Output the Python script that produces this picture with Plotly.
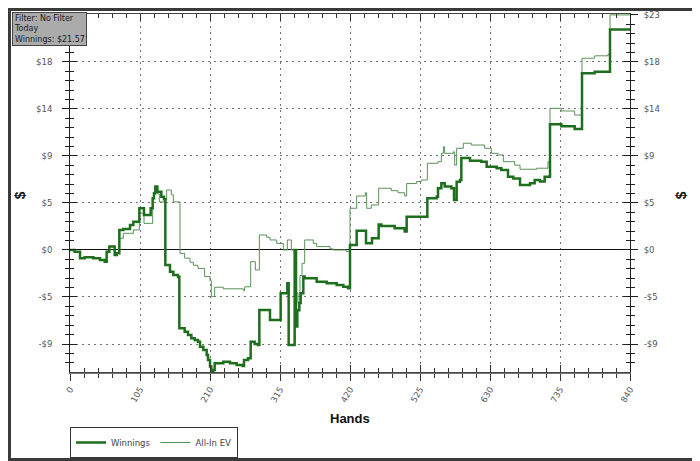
import plotly.graph_objects as go

# ---- data (hands, cumulative $) ----
win_hands = [0, 7, 15, 22, 35, 45, 52, 55, 59, 67, 70, 74, 80, 90, 95, 104, 111, 121, 124, 126,
             128, 131, 137, 141, 143, 150, 155, 162, 164, 172, 177, 182, 187, 192, 195, 200, 205,
             207, 210, 212, 215, 217, 230, 240, 250, 259, 261, 267, 271, 277, 282, 284, 300, 316,
             326, 328, 337, 339, 341, 344, 346, 350, 352, 370, 385, 400, 410, 417, 420, 430, 444,
             453, 463, 467, 487, 502, 505, 527, 536, 550, 552, 557, 562, 572, 576, 580, 585, 587,
             600, 617, 625, 640, 647, 657, 665, 675, 690, 697, 705, 712, 720, 737, 757, 768, 787,
             810, 840]
win_values = [0, -0.17, -0.81, -0.72, -0.81, -0.98, -1.14, -0.17, 0.33, -0.49, -0.33, 1.96, 2.05,
              2.45, 2.77, 4.08, 3.42, 4.08, 5.06, 5.55, 6.2, 5.7, 5.2, 4.96, -1.47, -2.12, -2.45,
              -2.61, -7.66, -7.99, -8.32, -8.64, -8.81, -8.97, -9.46, -9.78, -10.27, -10.76, -11.4,
              -12.06, -11.74, -11.09, -10.93, -11.09, -11.25, -11.35, -10.76, -10.6, -8.97, -9.2,
              -9.3, -5.87, -6.85, -4.24, -3.26, -9.3, 0.0, -7.5, -5.9, -5.2, -4.24, -2.6, -2.77,
              -3.1, -3.26, -3.42, -3.59, -3.75, 0.49, 1.88, 0.65, 1.14, 2.5, 2.35, 2.12, 1.8, 3.26,
              3.26, 5.06, 5.2, 6.04, 6.52, 6.2, 6.04, 4.9, 6.68, 6.85, 9.0, 8.74, 8.64, 8.15, 8.0,
              7.83, 7.17, 7.0, 6.36, 6.52, 6.85, 6.7, 7.17, 12.3, 12.1, 11.84, 17.3, 17.45, 21.57,
              21.57]

ev_hands = [0, 7, 15, 22, 35, 45, 52, 55, 59, 67, 70, 74, 80, 95, 104, 111, 121, 124, 126, 131,
            134, 142, 145, 152, 155, 165, 172, 180, 185, 192, 202, 210, 212, 217, 230, 260, 262,
            271, 278, 284, 295, 300, 310, 320, 326, 332, 338, 342, 345, 348, 352, 365, 370, 390,
            395, 415, 420, 430, 443, 445, 452, 463, 482, 492, 502, 505, 520, 527, 536, 552, 557,
            560, 562, 575, 577, 580, 590, 602, 622, 632, 642, 650, 667, 675, 700, 717, 720, 737,
            757, 768, 787, 807, 810, 840]
ev_values = [0, -0.17, -0.81, -0.72, -0.81, -0.98, -1.14, -0.17, 0.33, -0.49, -0.33, 1.14, 1.63,
             1.96, 3.6, 2.6, 2.6, 5.0, 5.7, 5.5, 4.7, 4.9, 5.87, 5.4, 4.7, -0.33, -0.8, -1.2,
             -1.5, -1.8, -2.6, -3.0, -4.57, -3.65, -3.8, -3.98, -3.6, -1.14, -1.96, 1.47, 1.24,
             0.98, 0.65, 0.0, 0.98, 0.0, -4.2, -5.2, -2.5, -1.3, 0.98, 0.65, 0.33, 0.1, 0.0,
             -0.16, 4.08, 5.28, 5.6, 4.08, 4.4, 6.04, 5.8, 5.6, 5.28, 6.5, 6.7, 6.85, 8.48, 8.64,
             9.46, 10.1, 9.46, 9.6, 8.3, 9.95, 10.44, 10.27, 9.95, 9.46, 9.3, 8.64, 8.3, 7.9, 8.0,
             8.64, 13.86, 13.6, 13.2, 18.76, 19.0, 19.15, 23.0, 23.0]

x_tick_vals = [0, 105, 210, 315, 420, 525, 630, 735, 840]
x_tick_text = ["0", "105", "210", "315", "420", "525", "630", "735", "840"]
y_tick_vals = [-9.2, -4.6, 0, 4.6, 9.2, 13.8, 18.4, 23.0]
y_tick_text = ["-$9", "-$5", "$0", "$5", "$9", "$14", "$18", "$23"]
y_tick_text_left = ["-$9", "-$5", "$0", "$5", "$9", "$14", "$18", ""]

X_RANGE = [0, 840]
Y_RANGE = [-11.94, 23.09]

TICK_FONT = dict(family="DejaVu Sans", size=8.5, color="#555555")
GRID_DASH = "2px,4px"
X_MINOR_OUT = dict(tickmode="linear", tick0=0, dtick=21, ticks="outside", ticklen=4,
                   tickcolor="#333", showgrid=False)
X_MINOR_IN = dict(tickmode="linear", tick0=0, dtick=21, ticks="inside", ticklen=4,
                  tickcolor="#333", showgrid=False)
Y_MINOR_OUT = dict(tickmode="linear", tick0=0, dtick=0.92, ticks="outside", ticklen=4,
                   tickcolor="#222", showgrid=False)
Y_MINOR_IN = dict(tickmode="linear", tick0=0, dtick=0.92, ticks="inside", ticklen=4,
                  tickcolor="#222", showgrid=False)

fig = go.Figure()
fig.add_trace(go.Scatter(x=ev_hands, y=ev_values, mode="lines", name="All-In EV",
                         xaxis="x", yaxis="y",
                         line=dict(color="#5a915a", width=1, shape="hv"), legendrank=2))
fig.add_trace(go.Scatter(x=win_hands, y=win_values, mode="lines", name="Winnings",
                         xaxis="x2", yaxis="y2",
                         line=dict(color="#1d6e1d", width=2.5, shape="hv"), legendrank=1))

fig.update_layout(
    width=692, height=453,
    margin=dict(l=62, r=70, t=6, b=89, autoexpand=False),
    paper_bgcolor="white", plot_bgcolor="white",
    xaxis=dict(range=X_RANGE, tickmode="array", tickvals=x_tick_vals, ticktext=x_tick_text,
               ticks="outside", ticklen=7, tickcolor="#333", tickangle=-60, tickfont=TICK_FONT,
               showline=True, linecolor="#777777", linewidth=2, mirror=False,
               showgrid=True, gridcolor="#707070", griddash=GRID_DASH, gridwidth=1,
               zeroline=False, automargin=False, minor=X_MINOR_OUT, anchor="y"),
    xaxis2=dict(range=X_RANGE, tickmode="array", tickvals=x_tick_vals, overlaying="x",
                side="bottom", anchor="y2", showticklabels=False, ticks="inside", ticklen=7,
                tickcolor="#333", showline=True, linecolor="#444444", linewidth=1, mirror="ticks",
                showgrid=False, zeroline=False, automargin=False, minor=X_MINOR_IN),
    yaxis=dict(range=Y_RANGE, tickmode="array", tickvals=y_tick_vals, ticktext=y_tick_text_left,
               ticks="outside", ticklen=7, tickcolor="#222", tickfont=TICK_FONT,
               ticklabelstandoff=8, showline=True, linecolor="#222", linewidth=1, mirror="ticks",
               showgrid=True, gridcolor="#707070", griddash=GRID_DASH, gridwidth=1,
               zeroline=True, zerolinecolor="#111111", zerolinewidth=1, automargin=False,
               minor=Y_MINOR_OUT, anchor="x"),
    yaxis2=dict(range=Y_RANGE, tickmode="array", tickvals=y_tick_vals, ticktext=y_tick_text,
                overlaying="y", side="right", anchor="x2", ticks="inside", ticklen=7,
                tickcolor="#222", tickfont=TICK_FONT, ticklabelstandoff=11, showline=True,
                linecolor="#222", linewidth=1, mirror="ticks", showgrid=False, zeroline=False,
                automargin=False, minor=Y_MINOR_IN),
    showlegend=True,
    legend=dict(orientation="h", xref="container", yref="container", x=0.0896,
                y=1 - (427 - 8) / 453, xanchor="left", yanchor="top",
                bordercolor="#333333", borderwidth=1, bgcolor="white",
                font=dict(family="DejaVu Sans", size=8.5, color="#444444"),
                itemwidth=30, tracegroupgap=0),
    annotations=[
        dict(text="Hands", x=0.5, y=-0.1285, xref="paper", yref="paper", showarrow=False,
             xanchor="center", yanchor="middle",
             font=dict(family="Liberation Sans", size=13, color="#111111", weight="bold")),
        dict(text="$", x=-0.0893, y=0.494, xref="paper", yref="paper", showarrow=False,
             textangle=-90, xanchor="center", yanchor="middle",
             font=dict(family="Liberation Sans", size=14, color="#111111", weight="bold")),
        dict(text="$", x=1.0911, y=0.494, xref="paper", yref="paper", showarrow=False,
             textangle=-90, xanchor="center", yanchor="middle",
             font=dict(family="Liberation Sans", size=14, color="#111111", weight="bold")),
        dict(text="Filter: No Filter<br>Today<br>Winnings: $21.57", x=-0.1036, y=1.0056,
             xref="paper", yref="paper", showarrow=False, xanchor="left", yanchor="top",
             align="left", bgcolor="#ababab", bordercolor="#444444", borderwidth=1, borderpad=1,
             font=dict(family="DejaVu Sans", size=8, color="#1a1a1a")),
    ],
    shapes=[
        dict(type="rect", xref="paper", yref="paper", x0=(9.5 - 70) / 560, x1=(698.5 - 70) / 560,
             y0=(372 - 459.5) / 358, y1=(372 - 9.5) / 358,
             line=dict(color="#3a3a3a", width=3), fillcolor="rgba(0,0,0,0)", layer="above"),
    ],
)

fig.write_html("out.html")
